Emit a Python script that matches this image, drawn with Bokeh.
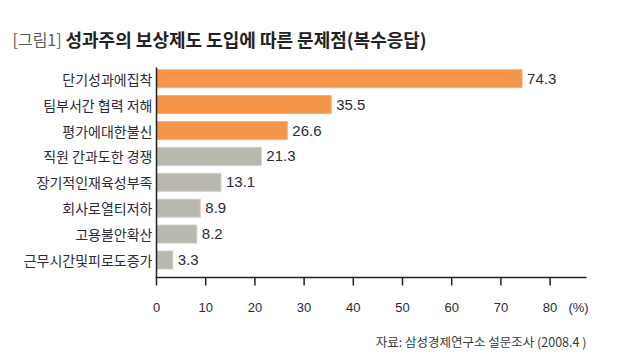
from bokeh.plotting import figure
from bokeh.models import ColumnDataSource, Range1d
from bokeh.core.properties import value
from bokeh.embed import file_html
from bokeh.resources import INLINE

# ---- data ----
categories = ["단기성과에집착", "팀부서간 협력 저해", "평가에대한불신", "직원 간과도한 경쟁",
              "장기적인재육성부족", "회사로열티저하", "고용불안확산", "근무시간및피로도증가"]
values = [74.3, 35.5, 26.6, 21.3, 13.1, 8.9, 8.2, 3.3]
x_ticks = [0, 10, 20, 30, 40, 50, 60, 70, 80]
tick_labels = ["0", "10", "20", "30", "40", "50", "60", "70", "80"]
title_prefix = "[그림1]"
title_text = "성과주의 보상제도 도입에 따른 문제점(복수응답)"
unit_text = "(%)"
source_text = "자료: 삼성경제연구소 설문조사 (2008.4 )"

KR = "Noto Sans CJK KR"
NUM = "Liberation Sans"
ORANGE, ORANGE_LINE = "#F5954A", "#F8AE78"
GRAY, GRAY_LINE = "#B9B8AF", "#CFCEC7"
TXT = "#2b2b3a"
AX = "#222222"

W, H = 640, 356
# pixel geometry of the reference
X0_PX, U = 156.0, 4.92          # x=0 position, px per unit
ROW0_PX, V = 78.2, 25.9         # first row centre, px per row

n = len(categories)
ypos = [n - i for i in range(n)]


def X(px):
    return (px - X0_PX) / U


def Y(py):
    return n - (py - ROW0_PX) / V


p = figure(width=W, height=H, output_backend="svg", toolbar_location=None,
           x_range=Range1d(X(0), X(W)), y_range=Range1d(Y(H), Y(0)),
           min_border=0)
p.axis.visible = False
p.grid.visible = False
p.outline_line_color = None
p.background_fill_color = "white"
p.border_fill_color = "white"

fills = [ORANGE if i < 3 else GRAY for i in range(n)]
lines = [ORANGE_LINE if i < 3 else GRAY_LINE for i in range(n)]
src = ColumnDataSource(dict(y=ypos, v=values, fill=fills, line=lines, cat=categories,
                            lab=[f"{v:.1f}" for v in values]))

# bars
p.hbar(y="y", right="v", left=0, height=18 / V, source=src,
       fill_color="fill", line_color="line", line_width=1)
# value labels
p.text(x="v", y="y", text="lab", source=src, x_offset=5, text_baseline="middle",
       text_align="left", text_font=value(NUM), text_font_size="15px", text_color=TXT)
# category labels
p.text(x=0, y="y", text="cat", source=src, x_offset=-4, text_baseline="middle",
       text_align="right", text_font=value(KR), text_font_size="14px", text_color=TXT)

# axes lines
p.segment(x0=[0], y0=[Y(67)], x1=[0], y1=[Y(277)], line_color=AX, line_width=1.5)
p.segment(x0=[X(155)], y0=[Y(277)], x1=[X(586)], y1=[Y(277)], line_color=AX, line_width=1.5)
# x ticks and labels
p.segment(x0=x_ticks, y0=[Y(277)] * len(x_ticks), x1=x_ticks, y1=[Y(285)] * len(x_ticks),
          line_color=AX, line_width=1.5)
p.text(x=x_ticks, y=[Y(307)] * len(x_ticks), text=tick_labels, text_align="center",
       text_baseline="middle", text_font=value(NUM), text_font_size="13px", text_color=TXT)
p.text(x=[X(578)], y=[Y(307)], text=[unit_text], text_align="center",
       text_baseline="middle", text_font=value(NUM), text_font_size="13px", text_color=TXT)

# title
p.text(x=[X(12)], y=[Y(38)], text=[title_prefix], text_baseline="middle",
       text_font=value(KR), text_font_size="16px", text_color="#5a5a5a")
p.text(x=[X(65)], y=[Y(38)], text=[title_text], text_baseline="middle",
       text_font=value(KR), text_font_size="18px", text_font_style="bold", text_color=AX)
# source
p.text(x=[X(586)], y=[Y(341)], text=[source_text], text_baseline="middle",
       text_align="right", text_font=value(KR), text_font_size="12.5px", text_color="#3a3a3a")

open("out.html", "w").write(file_html(p, INLINE))
